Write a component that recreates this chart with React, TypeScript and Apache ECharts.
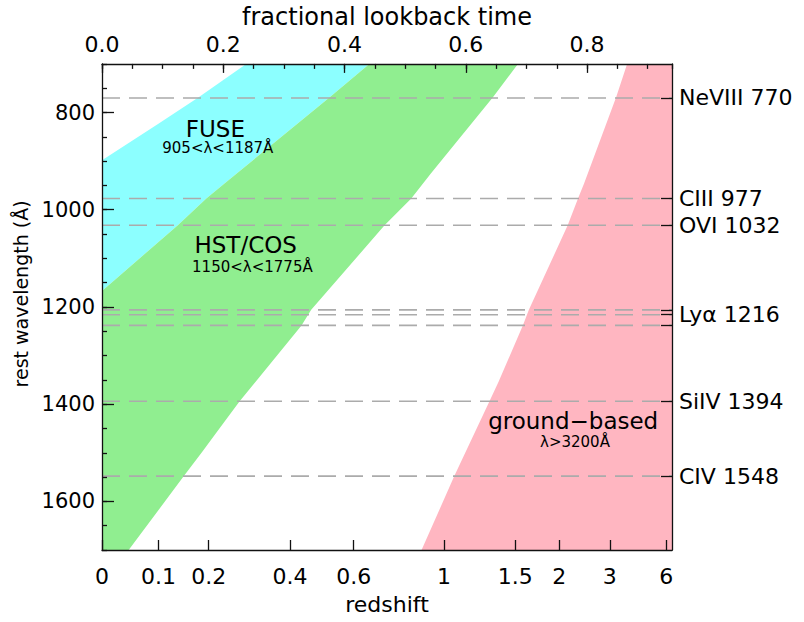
import React, { useEffect, useRef } from 'react';
import * as echarts from 'echarts';

// bottom axis: redshift labels placed at their fractional lookback time
const redshiftLabels = ['0', '0.1', '0.2', '0.4', '0.6', '1', '1.5', '2', '3', '6'];
const redshiftAtLookback = [0, 0.093, 0.176, 0.31, 0.415, 0.564, 0.6815, 0.754, 0.8374, 0.9304];
// top axis: fractional lookback time
const lookbackMajor = [0, 0.2, 0.4, 0.6, 0.8];
const lookbackMax = 0.94;
// left axis: rest wavelength
const waveMajor = [800, 1000, 1200, 1400, 1600];
const waveMin = 700;
const waveMax = 1700;
// absorption lines
const lineWaves = [770, 977, 1032, 1206, 1216, 1238, 1394, 1548];
const lineLabelWaves = [770, 977, 1032, 1216, 1394, 1548];
const lineLabelNames = ['NeVIII 770', 'CIII 977', 'OVI 1032', 'Lyα 1216', 'SiIV 1394', 'CIV 1548'];

// band edges: [fractional lookback time, rest wavelength]
const fuseUpperEdge = [[0, 898], [0.093, 823], [0.16, 768], [0.238, 700]];
const fuseCosEdge = [[0, 1167], [0.125, 1032], [0.172, 977], [0.202, 946], [0.376, 768], [0.441, 700]];
const cosLowerEdge = [
  [0.044, 1700], [0.135, 1548], [0.166, 1497], [0.19, 1456], [0.227, 1394], [0.329, 1238],
  [0.345, 1206], [0.466, 1032], [0.51, 977], [0.542, 926], [0.645, 768], [0.686, 700],
];
const groundEdge = [
  [0.527, 1700], [0.581, 1548], [0.639, 1394], [0.654, 1354], [0.694, 1238], [0.704, 1206],
  [0.768, 1032], [0.785, 977], [0.795, 946], [0.848, 768], [0.866, 700],
];

// annotation anchors [lookback, wavelength]
const annotationTexts = ['FUSE', '905<λ<1187Å', 'HST/COS', '1150<λ<1775Å', 'ground−based', 'λ>3200Å'];
const annotationAt = [[0.187, 833], [0.191, 874], [0.237, 1072], [0.248, 1117], [0.777, 1435], [0.78, 1478]];
const annotationSizes = [23, 15, 23, 15, 23, 15];

const FONT = '"DejaVu Sans", sans-serif';

export default function App() {
  const ref = useRef<HTMLDivElement>(null);

  useEffect(() => {
    if (!ref.current) return;
    const chart = echarts.init(ref.current, null, { renderer: 'svg' });

    const fusePoly = [...fuseUpperEdge, ...[...fuseCosEdge].reverse()];
    const cosPoly = [...fuseCosEdge, ...[...cosLowerEdge].reverse(), [0, waveMax]];
    const groundPoly = [...groundEdge, [lookbackMax, waveMin], [lookbackMax, waveMax]];

    const polySeries = (pts: number[][], color: string, z: number) => ({
      type: 'custom',
      xAxisIndex: 0,
      yAxisIndex: 0,
      silent: true,
      clip: true,
      z,
      data: [[0, waveMin]],
      renderItem: (_p: any, api: any) => ({
        type: 'polygon',
        shape: { points: pts.map((p) => api.coord(p)) },
        style: { fill: color },
      }),
    });

    const mkLine = () => ({ show: true, onZero: false, lineStyle: { color: '#111', width: 1.3 } });
    const mkTick = () => ({ color: '#111', width: 1.3 });

    chart.setOption({
      animation: false,
      backgroundColor: '#fff',
      grid: { left: 102, right: 132, top: 59, bottom: 72 },
      xAxis: [
        {
          type: 'value',
          position: 'bottom',
          min: 0,
          max: lookbackMax,
          z: 10,
          axisLine: mkLine(),
          splitLine: { show: false },
          axisTick: { show: true, inside: true, length: 10, lineStyle: mkTick(), customValues: redshiftAtLookback },
          axisLabel: {
            show: true,
            customValues: redshiftAtLookback,
            margin: 15,
            fontSize: 22,
            fontFamily: FONT,
            color: '#000',
            formatter: (v: number) => {
              let best = 0;
              redshiftAtLookback.forEach((r, i) => {
                if (Math.abs(r - v) < Math.abs(redshiftAtLookback[best] - v)) best = i;
              });
              return redshiftLabels[best];
            },
          },
          name: 'redshift',
          nameLocation: 'middle',
          nameGap: 43,
          nameTextStyle: { fontSize: 22, fontFamily: FONT, color: '#000' },
        },
        {
          type: 'value',
          position: 'top',
          min: 0,
          max: lookbackMax,
          z: 10,
          axisLine: mkLine(),
          splitLine: { show: false },
          axisTick: { show: true, inside: true, length: 9, lineStyle: mkTick(), customValues: lookbackMajor },
          axisLabel: {
            show: true,
            customValues: lookbackMajor,
            margin: 8,
            fontSize: 22,
            fontFamily: FONT,
            color: '#000',
            formatter: (v: number) => v.toFixed(1),
          },
          name: 'fractional lookback time',
          nameLocation: 'middle',
          nameGap: 32,
          nameTextStyle: { fontSize: 24, fontFamily: FONT, color: '#000' },
        },
        {
          type: 'value',
          position: 'top',
          min: 0,
          max: lookbackMax,
          interval: 0.05,
          z: 10,
          axisLine: { show: false, onZero: false },
          splitLine: { show: false },
          axisTick: { show: true, inside: true, length: 5, lineStyle: mkTick() },
          axisLabel: { show: false },
        },
      ],
      yAxis: [
        {
          type: 'value',
          position: 'left',
          inverse: true,
          min: waveMin,
          max: waveMax,
          z: 10,
          axisLine: mkLine(),
          splitLine: { show: false },
          axisTick: { show: true, inside: true, length: 12, lineStyle: mkTick(), customValues: waveMajor },
          axisLabel: {
            show: true,
            customValues: waveMajor,
            margin: 7,
            fontSize: 21,
            fontFamily: FONT,
            color: '#000',
            formatter: (v: number) => String(v),
          },
          name: 'rest wavelength (Å)',
          nameLocation: 'middle',
          nameGap: 69,
          nameTextStyle: { fontSize: 19, fontFamily: FONT, color: '#000', padding: [0, 0, 0, 26] },
        },
        {
          type: 'value',
          position: 'right',
          inverse: true,
          min: waveMin,
          max: waveMax,
          z: 10,
          axisLine: mkLine(),
          splitLine: { show: false },
          axisTick: { show: true, inside: true, length: 11, lineStyle: mkTick(), customValues: lineWaves },
          axisLabel: {
            show: true,
            customValues: lineLabelWaves,
            margin: 7,
            fontSize: 22,
            fontFamily: FONT,
            color: '#000',
            formatter: (v: number) => {
              const i = lineLabelWaves.indexOf(v);
              return i >= 0 ? lineLabelNames[i] : '';
            },
          },
        },
        {
          type: 'value',
          position: 'left',
          inverse: true,
          min: waveMin,
          max: waveMax,
          interval: 50,
          z: 10,
          axisLine: { show: false, onZero: false },
          splitLine: { show: false },
          axisTick: { show: true, inside: true, length: 5, lineStyle: mkTick() },
          axisLabel: { show: false },
        },
      ],
      series: [
        polySeries(fusePoly, '#8cffff', 1),
        polySeries(cosPoly, '#90ee90', 2),
        polySeries(groundPoly, '#ffb6c1', 3),
        {
          type: 'custom',
          xAxisIndex: 0,
          yAxisIndex: 0,
          silent: true,
          z: 4,
          data: lineWaves.map((w) => [0, w]),
          renderItem: (_p: any, api: any) => {
            const w = api.value(1);
            const a = api.coord([0, w]);
            const b = api.coord([lookbackMax, w]);
            return {
              type: 'line',
              shape: { x1: a[0], y1: a[1], x2: b[0], y2: b[1] },
              style: { stroke: '#ababab', lineWidth: 1.6, lineDash: [18, 9] },
            };
          },
        },
        {
          type: 'custom',
          xAxisIndex: 0,
          yAxisIndex: 0,
          silent: true,
          z: 5,
          data: annotationAt.map((p, i) => [p[0], p[1], i]),
          renderItem: (_p: any, api: any) => {
            const pt = api.coord([api.value(0), api.value(1)]);
            const i = api.value(2);
            return {
              type: 'text',
              x: pt[0],
              y: pt[1],
              style: {
                text: annotationTexts[i],
                fontSize: annotationSizes[i],
                fontFamily: FONT,
                fill: '#000',
                align: 'center',
                verticalAlign: 'middle',
              },
            };
          },
        },
      ],
    });

    return () => chart.dispose();
  }, []);

  return <div ref={ref} style={{ position: 'absolute', left: 0, top: 0, width: 804, height: 622 }} />;
}
